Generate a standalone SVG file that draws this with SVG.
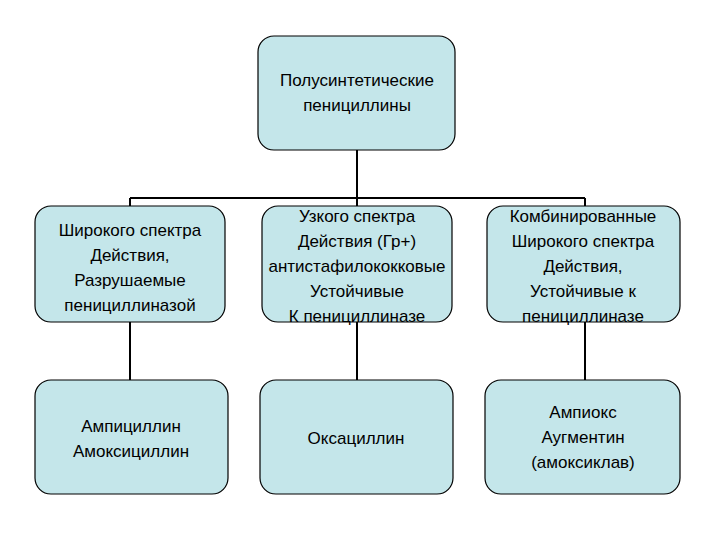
<svg xmlns="http://www.w3.org/2000/svg" width="720" height="540" viewBox="0 0 720 540">
<style>
.n{fill:#c4e6ea;stroke:#000;stroke-width:1.2}
.t{font-family:"Liberation Sans",Arial,sans-serif;font-size:17px;text-anchor:middle;fill:#000}
.c{stroke:#000;stroke-width:2;fill:none}
</style>
<rect width="720" height="540" fill="#fff"/>
<g id="connectors">
<path class="c" d="M357 150V198M130 198H585M130 198V206M357 198V206M585 198V206M130 322V380M357 322V380M585 322V380"/>
</g>
<g id="top"><rect class="n" x="258" y="36" width="197" height="114" rx="16"/>
<text class="t" x="357" y="86">Полусинтетические</text><text class="t" x="357" y="111">пенициллины</text></g>
<g id="broad"><rect class="n" x="35" y="206" width="190" height="116" rx="16"/>
<text class="t" x="130" y="236">Широкого спектра</text><text class="t" x="130" y="261">Действия,</text><text class="t" x="130" y="286">Разрушаемые</text><text class="t" x="130" y="311">пенициллиназой</text></g>
<g id="narrow"><rect class="n" x="262" y="206" width="190" height="116" rx="16"/>
<text class="t" x="357" y="222">Узкого спектра</text><text class="t" x="357" y="247">Действия (Гр+)</text><text class="t" x="357" y="272">антистафилококковые</text><text class="t" x="357" y="297">Устойчивые</text><text class="t" x="357" y="322">К пенициллиназе</text></g>
<g id="combined"><rect class="n" x="487" y="206" width="193" height="116" rx="16"/>
<text class="t" x="583" y="222">Комбинированные</text><text class="t" x="583" y="247">Широкого спектра</text><text class="t" x="583" y="272">Действия,</text><text class="t" x="583" y="297">Устойчивые к</text><text class="t" x="583" y="322">пенициллиназе</text></g>
<g id="ampi"><rect class="n" x="35" y="380" width="193" height="114" rx="16"/>
<text class="t" x="131" y="432">Ампициллин</text><text class="t" x="131" y="457">Амоксициллин</text></g>
<g id="oxa"><rect class="n" x="260" y="380" width="193" height="114" rx="16"/>
<text class="t" x="356" y="444">Оксациллин</text></g>
<g id="ampiox"><rect class="n" x="485" y="380" width="195" height="114" rx="16"/>
<text class="t" x="583" y="418">Ампиокс</text><text class="t" x="583" y="443">Аугментин</text><text class="t" x="583" y="468">(амоксиклав)</text></g>
</svg>
